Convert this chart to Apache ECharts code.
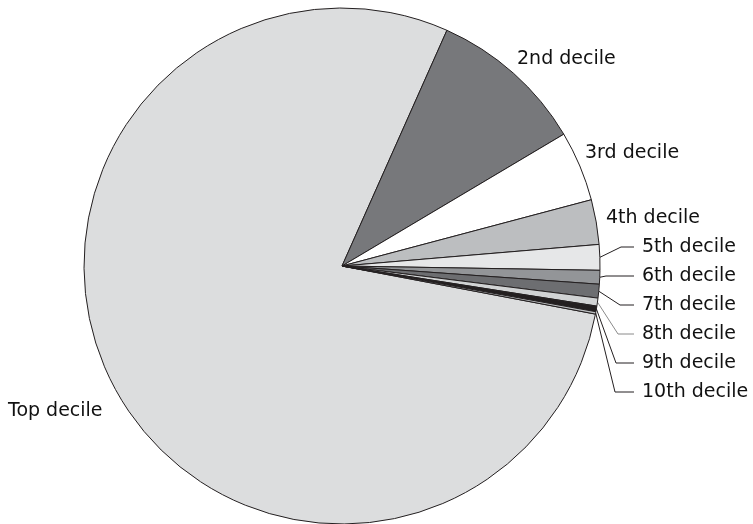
<!DOCTYPE html>
<html>
<head>
<meta charset="utf-8">
<style>html,body{margin:0;padding:0;background:#fff}#c{width:753px;height:524px}</style>
<script src="https://cdn.jsdelivr.net/npm/echarts@6/dist/echarts.min.js"></script>
</head>
<body>
<div id="c"></div>
<script>
const categories = ['Top decile','2nd decile','3rd decile','4th decile','5th decile','6th decile','7th decile','8th decile','9th decile','10th decile'];
const values = [78.68, 9.8, 4.4, 2.8, 1.6, 0.86, 0.86, 0.5, 0.35, 0.15];
const colors = ['#dcddde','#77787b','#ffffff','#bcbec0','#e6e7e8','#939598','#6d6e71','#d1d3d4','#231f20','#bcbec0'];

const labelX = [8, 517, 585, 606, 642, 642, 642, 642, 642, 642];
const labelY = [411, 59, 153, 218, 247, 276, 305, 334, 363, 392];
const elbowX = [null, null, null, null, 621, 606, 620, 618, 616, 615];
const lineEndX = 634;

const chart = echarts.init(document.getElementById('c'), null, {renderer: 'canvas'});
const data = categories.map((n, i) => ({
  name: n,
  value: values[i],
  itemStyle: {color: colors[i]},
  labelLine: {
    show: elbowX[i] !== null,
    lineStyle: {color: i === 7 ? '#8a8a8a' : '#231f20', width: 1}
  }
}));

chart.setOption({
  animation: false,
  series: [{
    type: 'pie',
    center: [342, 266],
    radius: [0, 258],
    startAngle: -10.75,
    clockwise: true,
    avoidLabelOverlap: false,
    data: data,
    itemStyle: {borderColor: '#231f20', borderWidth: 1},
    label: {
      show: true,
      position: 'outside',
      formatter: '{b}',
      fontFamily: 'DejaVu Sans',
      fontSize: 19,
      color: '#111111'
    },
    labelLine: {show: true, length: 10, length2: 10},
    emphasis: {disabled: true},
    labelLayout: function (params) {
      const i = params.dataIndex;
      const out = {x: labelX[i], y: labelY[i], align: 'left', verticalAlign: 'middle', hideOverlap: false};
      if (elbowX[i] !== null && params.labelLinePoints) {
        const p0 = params.labelLinePoints[0];
        out.labelLinePoints = [[p0[0], p0[1]], [elbowX[i], labelY[i]], [lineEndX, labelY[i]]];
      }
      return out;
    }
  }]
});
</script>
</body>
</html>
